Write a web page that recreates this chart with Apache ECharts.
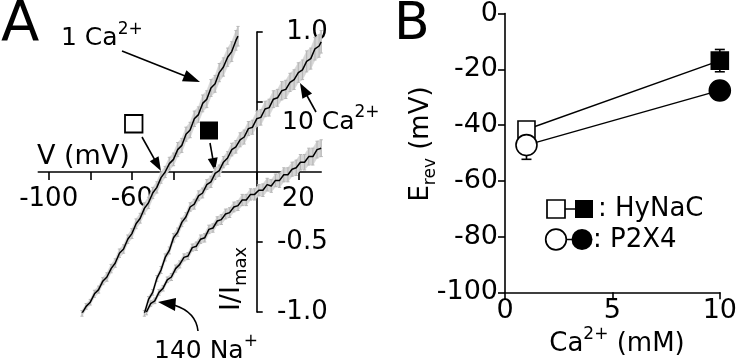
<!DOCTYPE html>
<html><head><meta charset="utf-8">
<script src="https://cdn.jsdelivr.net/npm/echarts@6/dist/echarts.min.js"></script>
<style>html,body{margin:0;padding:0;background:#fff}#c{width:740px;height:363px}</style>
</head><body><div id="c"></div>
<script>
// ---------- Panel A: normalized I-V traces ----------
const V1 = [-84,-82,-80,-78,-76,-74,-72,-70,-68,-66,-64,-62,-60,-58,-56,-54,-52,-50,-48,-46,-44,-42,-40,-38,-36,-34,-32,-30,-28,-26,-24,-22,-20,-18,-16,-14,-12,-10,-9];
const I1 = [-1.01,-0.96,-0.93,-0.87,-0.84,-0.78,-0.75,-0.69,-0.65,-0.58,-0.55,-0.48,-0.44,-0.37,-0.33,-0.26,-0.22,-0.15,-0.11,-0.04,0.00,0.06,0.09,0.16,0.19,0.27,0.30,0.38,0.41,0.49,0.52,0.60,0.63,0.71,0.75,0.82,0.86,0.94,0.97];
const E1 = [0.02,0.02,0.02,0.025,0.025,0.025,0.03,0.03,0.03,0.03,0.03,0.03,0.035,0.035,0.035,0.04,0.04,0.04,0.04,0.04,0.04,0.045,0.045,0.05,0.05,0.05,0.055,0.055,0.055,0.06,0.06,0.06,0.06,0.065,0.065,0.065,0.07,0.07,0.07];

const V2 = [-54,-52,-50,-48,-46,-44,-42,-40,-38,-36,-34,-32,-30,-28,-26,-24,-22,-20,-18,-16,-14,-12,-10,-8,-6,-4,-2,0,2,4,6,8,10,12,14,16,18,20,22,24,26,28,30,31];
const I2 = [-1.01,-0.91,-0.86,-0.76,-0.70,-0.61,-0.56,-0.47,-0.43,-0.36,-0.32,-0.25,-0.23,-0.17,-0.15,-0.09,-0.07,-0.01,0.01,0.07,0.10,0.16,0.18,0.23,0.25,0.31,0.32,0.38,0.39,0.45,0.46,0.52,0.53,0.58,0.59,0.64,0.66,0.71,0.73,0.79,0.81,0.88,0.90,0.93];
const E2 = [0.02,0.02,0.02,0.02,0.025,0.025,0.025,0.03,0.03,0.03,0.03,0.03,0.035,0.035,0.035,0.035,0.04,0.04,0.04,0.04,0.045,0.045,0.045,0.05,0.05,0.05,0.05,0.055,0.055,0.055,0.06,0.06,0.06,0.065,0.065,0.065,0.07,0.07,0.07,0.075,0.075,0.08,0.08,0.08];

const V3 = [-53,-51,-49,-47,-45,-43,-41,-39,-37,-35,-33,-31,-29,-27,-25,-23,-21,-19,-17,-15,-13,-11,-9,-7,-5,-3,-1,1,3,5,7,9,11,13,15,17,19,21,23,25,27,29,31];
const I3 = [-1.00,-0.94,-0.92,-0.86,-0.83,-0.77,-0.75,-0.69,-0.66,-0.61,-0.60,-0.54,-0.53,-0.48,-0.47,-0.41,-0.40,-0.35,-0.34,-0.30,-0.29,-0.25,-0.24,-0.20,-0.20,-0.16,-0.16,-0.13,-0.13,-0.09,-0.10,-0.06,-0.06,-0.02,-0.02,0.02,0.03,0.07,0.07,0.11,0.11,0.16,0.17];
const E3 = [0.02,0.02,0.02,0.02,0.02,0.02,0.025,0.025,0.025,0.025,0.025,0.025,0.03,0.03,0.03,0.03,0.03,0.03,0.035,0.035,0.035,0.035,0.035,0.04,0.04,0.04,0.04,0.04,0.045,0.045,0.045,0.045,0.05,0.05,0.05,0.05,0.055,0.055,0.055,0.06,0.06,0.06,0.06];

const ivXTicks = [-100,-80,-60,-40,-20,0,20];
const ivXLabels = [-100,-60,20];
const ivYTicks = [-1,-0.5,0.5,1];
const ivYLabels = [-1,-0.5,1];

// ---------- Panel B: reversal potentials ----------
const caConc = [1, 10];
const hynacErev = [-41.6, -16.9];
const hynacErr = [1.5, 4.0];
const p2x4Erev = [-47.2, -27.6];
const p2x4Err = [5.1, 2.0];

const FONT = 'DejaVu Sans';
const chart = echarts.init(document.getElementById('c'), null, {renderer:'canvas'});

// grid A geometry (pixels)
const gA = {left:38.3, top:32, width:282.9, height:280};
const xMinA = -105, xMaxA = 31, yMinA = -1, yMaxA = 1;
const zeroY = gA.top + gA.height * (yMaxA - 0) / (yMaxA - yMinA);
const zeroX = gA.left + gA.width * (0 - xMinA) / (xMaxA - xMinA);

function bandSeries(V, I, E){
  return {
    type:'custom', xAxisIndex:0, yAxisIndex:0, z:1, silent:true,
    data: V.map((v,i)=>[v, I[i], E[i]]),
    renderItem(params, api){
      const i = params.dataIndex;
      const v = api.value(0), m = api.value(1), e = api.value(2);
      const p = api.coord([v, m+e]), q = api.coord([v, m-e]);
      const ch = [];
      if (i < V.length-1){
        const p2 = api.coord([V[i+1], I[i+1]+E[i+1]]), q2 = api.coord([V[i+1], I[i+1]-E[i+1]]);
        ch.push({type:'polygon', shape:{points:[p,p2,q2,q]}, style:{fill:'#d6d6d6', stroke:'#d6d6d6', lineWidth:0.6}});
      }
      ch.push({type:'line', shape:{x1:p[0],y1:p[1],x2:q[0],y2:q[1]}, style:{stroke:'#b8b8b8', lineWidth:1.2}});
      ch.push({type:'line', shape:{x1:p[0]-1.6,y1:p[1],x2:p[0]+1.6,y2:p[1]}, style:{stroke:'#b8b8b8', lineWidth:1}});
      ch.push({type:'line', shape:{x1:q[0]-1.6,y1:q[1],x2:q[0]+1.6,y2:q[1]}, style:{stroke:'#b8b8b8', lineWidth:1}});
      return {type:'group', children:ch};
    }
  };
}
function traceSeries(V, I){
  return {type:'line', xAxisIndex:0, yAxisIndex:0, z:3, silent:true, symbol:'none', showSymbol:false,
    data: V.map((v,i)=>[v, I[i]]), lineStyle:{color:'#000', width:1.5}};
}

function errSeries(){
  const rows = [];
  caConc.forEach((c,i)=>rows.push([c, hynacErev[i], hynacErr[i]]));
  caConc.forEach((c,i)=>rows.push([c, p2x4Erev[i], p2x4Err[i]]));
  return {type:'custom', xAxisIndex:1, yAxisIndex:1, z:1, silent:true, data: rows,
    renderItem(params, api){
      const x = api.value(0), y = api.value(1), e = api.value(2);
      const a = api.coord([x, y+e]), b = api.coord([x, y-e]);
      const st = {stroke:'#000', lineWidth:1.6};
      return {type:'group', children:[
        {type:'line', shape:{x1:a[0],y1:a[1],x2:b[0],y2:b[1]}, style:st},
        {type:'line', shape:{x1:a[0]-5,y1:a[1],x2:a[0]+5,y2:a[1]}, style:st},
        {type:'line', shape:{x1:b[0]-5,y1:b[1],x2:b[0]+5,y2:b[1]}, style:st}
      ]};
    }};
}
function markerData(vals){
  return caConc.map((c,i)=>({value:[c, vals[i]],
    itemStyle: i===0 ? {color:'#fff', borderColor:'#000', borderWidth:1.6} : {color:'#000', borderColor:'#000', borderWidth:1.6}}));
}

function arrow(x1,y1,x2,y2,L,W){
  const dx=x2-x1, dy=y2-y1, d=Math.hypot(dx,dy), ux=dx/d, uy=dy/d;
  const bx=x2-ux*L, by=y2-uy*L, px=-uy, py=ux;
  return [
    {type:'line', shape:{x1:x1,y1:y1,x2:bx+ux,y2:by+uy}, style:{stroke:'#000', lineWidth:1.6}},
    {type:'polygon', shape:{points:[[x2,y2],[bx+px*W/2,by+py*W/2],[bx-px*W/2,by-py*W/2]]}, style:{fill:'#000'}}
  ];
}
function txt(x, y, text, size, extra){
  extra = extra || {};
  return Object.assign({type:'text', x:x, y:y, z:10, style:Object.assign({
    text:text, fontSize:size, fontFamily:FONT, fill:'#000', align:'left', verticalAlign:'middle',
    lineHeight: size+10,
    rich:{
      sup:{fontSize:Math.round(size*0.66), fontFamily:FONT, fill:'#000', verticalAlign:'top', lineHeight:Math.round(size*0.66)},
      sub:{fontSize:Math.round(size*0.66), fontFamily:FONT, fill:'#000', verticalAlign:'bottom', lineHeight:Math.round(size*0.66)}
    }}, extra.style||{})}, extra.el||{});
}

const graphics = [].concat(
  [txt(1, 25, 'A', 56), txt(394, 25, 'B', 52)],
  [txt(61, 38.5, '1 Ca{sup|2+}', 25), txt(282, 122, '10 Ca{sup|2+}', 25), txt(154, 351, '140 Na{sup|+}', 25)],
  [txt(37, 157, 'V (mV)', 27)],
  [txt(232, 279, 'I/I{sub|max}', 27, {style:{align:'center'}, el:{rotation:Math.PI/2}})],
  [txt(421, 144, 'E{sub|rev} (mV)', 26, {style:{align:'center'}, el:{rotation:Math.PI/2}})],
  [txt(617, 344, 'Ca{sup|2+} (mM)', 26, {style:{align:'center'}})],
  arrow(122, 51, 200, 82, 17, 12),
  arrow(316, 112, 300, 83, 15, 11),
  arrow(142, 137, 161, 171, 14, 10),
  arrow(210, 143, 215, 171, 13, 10),
  [{type:'bezierCurve', shape:{x1:198, y1:331, cpx1:196, cpy1:312, x2:174, y2:305}, style:{stroke:'#000', lineWidth:1.6, fill:null}},
   {type:'polygon', shape:{points:[[158,302],[176,298],[175,311]]}, style:{fill:'#000'}}],
  [{type:'rect', shape:{x:125, y:115, width:17.5, height:17.5}, style:{fill:'#fff', stroke:'#000', lineWidth:1.8}},
   {type:'rect', shape:{x:200, y:121.5, width:18, height:18}, style:{fill:'#000'}}],
  // legend
  [{type:'line', shape:{x1:564, y1:209, x2:576, y2:209}, style:{stroke:'#000', lineWidth:1.5}},
   {type:'rect', shape:{x:547, y:200, width:18, height:18}, style:{fill:'#fff', stroke:'#000', lineWidth:1.7}},
   {type:'rect', shape:{x:575, y:200, width:18, height:18}, style:{fill:'#000'}},
   {type:'line', shape:{x1:566, y1:239.5, x2:572, y2:239.5}, style:{stroke:'#000', lineWidth:1.5}},
   {type:'circle', shape:{cx:556, cy:239.5, r:10.3}, style:{fill:'#fff', stroke:'#000', lineWidth:1.7}},
   {type:'circle', shape:{cx:582, cy:239.5, r:10.5}, style:{fill:'#000'}},
   txt(598, 209, ': HyNaC', 26), txt(593, 240, ': P2X4', 26)]
);

const axLine = {color:'#000', width:1.6};
const option = {
  animation:false,
  grid:[
    gA,
    {left:505, top:11.7, width:217.7, height:280.6}
  ],
  xAxis:[
    {gridIndex:0, type:'value', min:xMinA, max:xMaxA, position:'bottom',
      offset: -(gA.top + gA.height - zeroY),
      axisLine:{onZero:false, lineStyle:axLine},
      axisTick:{customValues:ivXTicks, length:8, lineStyle:axLine},
      axisLabel:{customValues:ivXLabels, margin:14, color:'#000', fontSize:26, fontFamily:FONT},
      splitLine:{show:false}},
    {gridIndex:1, type:'value', min:0, max:10, interval:5,
      axisLine:{onZero:false, lineStyle:axLine},
      axisTick:{length:7, lineStyle:axLine},
      axisLabel:{margin:5, color:'#000', fontSize:27, fontFamily:FONT},
      splitLine:{show:false}}
  ],
  yAxis:[
    {gridIndex:0, type:'value', min:yMinA, max:yMaxA, position:'left',
      offset: -(zeroX - gA.left),
      axisLine:{onZero:false, lineStyle:axLine},
      axisTick:{customValues:ivYTicks, inside:true, length:6, lineStyle:axLine},
      axisLabel:{customValues:ivYLabels, inside:true, margin:71, align:'right', color:'#000', fontSize:26, fontFamily:FONT,
        formatter:(v)=>Number(v).toFixed(1)},
      splitLine:{show:false}},
    {gridIndex:1, type:'value', min:-100, max:0, interval:20,
      axisLine:{onZero:false, lineStyle:axLine},
      axisTick:{length:7, lineStyle:axLine},
      axisLabel:{margin:7, color:'#000', fontSize:27, fontFamily:FONT},
      splitLine:{show:false}}
  ],
  series:[
    bandSeries(V1, I1, E1), bandSeries(V2, I2, E2), bandSeries(V3, I3, E3),
    traceSeries(V1, I1), traceSeries(V2, I2), traceSeries(V3, I3),
    errSeries(),
    {type:'line', xAxisIndex:1, yAxisIndex:1, z:3, silent:true, symbol:'rect', symbolSize:17, showSymbol:true,
      data:markerData(hynacErev), lineStyle:{color:'#000', width:1.4}},
    {type:'line', xAxisIndex:1, yAxisIndex:1, z:4, silent:true, symbol:'circle', symbolSize:21, showSymbol:true,
      data:markerData(p2x4Erev), lineStyle:{color:'#000', width:1.4}}
  ],
  graphic:{elements:graphics}
};
chart.setOption(option);
</script>
</body></html>
